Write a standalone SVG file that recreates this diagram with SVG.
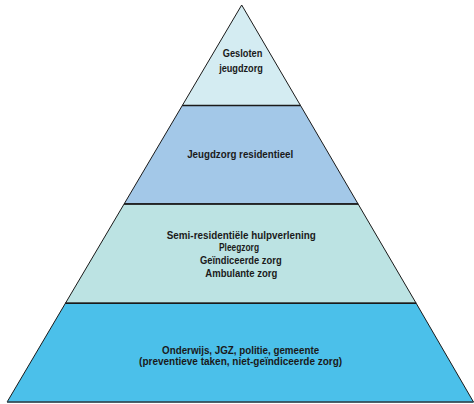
<svg xmlns="http://www.w3.org/2000/svg" width="474" height="404" viewBox="0 0 474 404">
<style>
.band{stroke:#1a1a1a;stroke-width:1;stroke-linejoin:miter}
.sep{stroke:#1a1a1a;stroke-width:1.5}
text{font-family:"Liberation Sans",Arial,sans-serif;font-weight:bold;font-size:10px;fill:#1a1a1a;text-anchor:middle}
</style>
<rect width="474" height="404" fill="#ffffff"/>
<g id="level1">
<polygon class="band" fill="#d4ecf2" points="241.7,5 300.5,105.5 182.3,105.5"/>
<text x="242.5" y="57" textLength="39.6" lengthAdjust="spacingAndGlyphs">Gesloten</text>
<text x="241" y="72" textLength="43.7" lengthAdjust="spacingAndGlyphs">jeugdzorg</text>
</g>
<g id="level2">
<polygon class="band" fill="#a3c8e8" points="182.3,105.5 300.5,105.5 358.1,204 124.1,204"/>
<text x="240.2" y="158" textLength="106" lengthAdjust="spacingAndGlyphs">Jeugdzorg residentieel</text>
</g>
<g id="level3">
<polygon class="band" fill="#bce3e3" points="124.1,204 358.1,204 416.2,303.3 65.4,303.3"/>
<text x="241.3" y="239" textLength="149" lengthAdjust="spacingAndGlyphs">Semi-residentiële hulpverlening</text>
<text x="239" y="251" textLength="40" lengthAdjust="spacingAndGlyphs">Pleegzorg</text>
<text x="240.8" y="264" textLength="81.7" lengthAdjust="spacingAndGlyphs">Geïndiceerde zorg</text>
<text x="241.3" y="277" textLength="72" lengthAdjust="spacingAndGlyphs">Ambulante zorg</text>
</g>
<g id="level4">
<polygon class="band" fill="#4bc0ea" points="65.4,303.3 416.2,303.3 473.5,402 7.1,402"/>
<text x="240.6" y="354" textLength="157" lengthAdjust="spacingAndGlyphs">Onderwijs, JGZ, politie, gemeente</text>
<text x="240.6" y="365" textLength="203" lengthAdjust="spacingAndGlyphs">(preventieve taken, niet-geïndiceerde zorg)</text>
</g>
<g id="connectors">
<line class="sep" x1="182.3" y1="105.5" x2="300.5" y2="105.5"/>
<line class="sep" x1="124.1" y1="204" x2="358.1" y2="204"/>
<line class="sep" x1="65.4" y1="303.3" x2="416.2" y2="303.3"/>
<line x1="7.1" y1="402" x2="473.5" y2="402" stroke="#3a5560" stroke-width="1.5"/>
</g>
</svg>
